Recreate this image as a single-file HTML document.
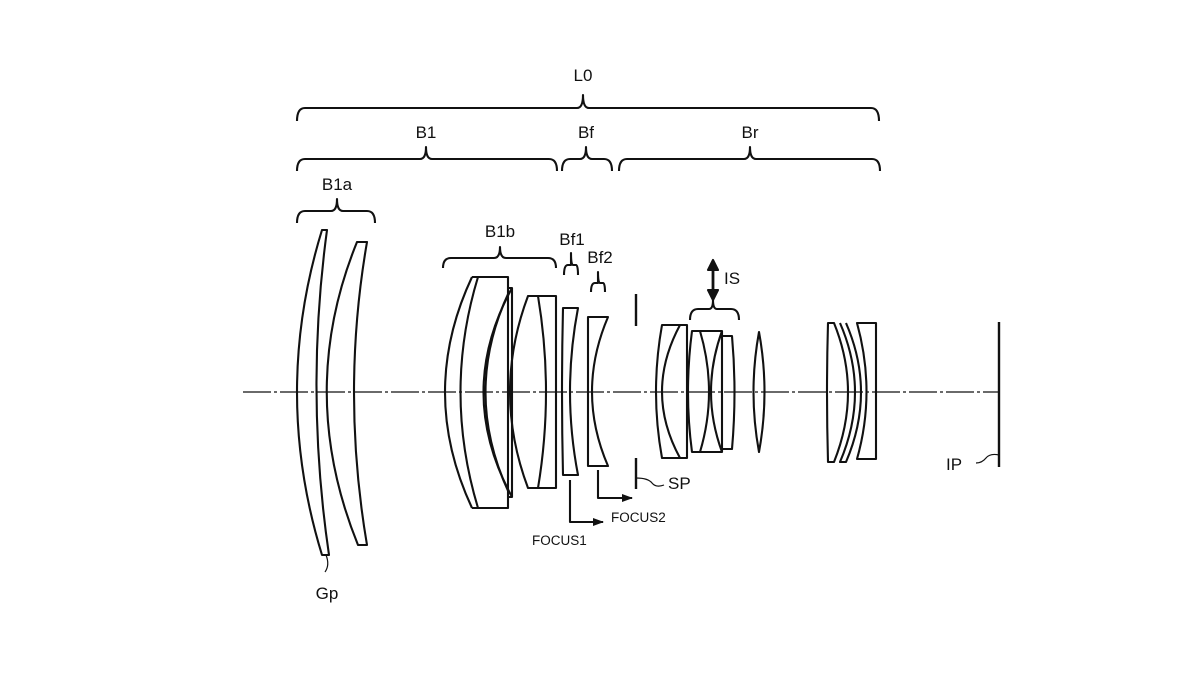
<!DOCTYPE html>
<html><head><meta charset="utf-8"><style>
html,body{margin:0;padding:0;background:#fff;}
svg{display:block;}
text{font-family:"Liberation Sans",sans-serif;fill:#111;}
</style></head><body>
<svg width="1200" height="675" viewBox="0 0 1200 675" xmlns="http://www.w3.org/2000/svg">
<defs><marker id="ar" markerWidth="11" markerHeight="8" refX="10" refY="4" orient="auto" markerUnits="userSpaceOnUse"><path d="M0,0 L11,4 L0,8 Z" fill="#111"/></marker></defs>
<g fill="none" stroke="#111" stroke-width="2.1" stroke-linejoin="round">
<line x1="243" y1="392" x2="1000" y2="392" stroke-width="1.2" stroke-dasharray="28,3,3,3"/>
<path d="M297,121 Q297,108 305,108 L577,108 Q583,108 583,95 Q583,108 589,108 L871,108 Q879,108 879,121"/>
<path d="M297,171 Q297,159 305,159 L420,159 Q426,159 426,147 Q426,159 432,159 L549,159 Q557,159 557,171"/>
<path d="M562,171 Q562,159 570,159 L580,159 Q586,159 586,147 Q586,159 592,159 L604,159 Q612,159 612,171"/>
<path d="M619,171 Q619,159 627,159 L744,159 Q750,159 750,147 Q750,159 756,159 L872,159 Q880,159 880,171"/>
<path d="M297,223 Q297,211 305,211 L331,211 Q337,211 337,199 Q337,211 343,211 L367,211 Q375,211 375,223"/>
<path d="M443,268 Q443,258 451,258 L494,258 Q500,258 500,247 Q500,258 506,258 L548,258 Q556,258 556,268"/>
<path d="M564,275 Q564,265 568,265 L571,265 Q571,265 571,253 Q571,265 573,265 L576,265 Q578,265 578,275"/>
<path d="M591,292 Q591,283 595,283 L598,283 Q598,283 598,272 Q598,283 600,283 L603,283 Q605,283 605,292"/>
<path d="M690,320 Q690,309 698,309 L709,309 Q713,309 713,300 Q713,309 717,309 L731,309 Q739,309 739,320"/>
<path d="M322,230 Q272,392 322,555 L329,555 Q305,392 327,230 Z"/>
<path d="M357,242 Q296,392 358,545 L367,545 Q341,392 367,242 Z"/>
<path d="M326,555 Q330,565 325,572" stroke-width="1.2"/>
<path d="M472,277 Q418,392 472,508"/>
<path d="M472,277 L508,277 L508,508 L472,508"/>
<path d="M478,277 Q443,392 478,508"/>
<path d="M508,288 L512,288 L512,497 L508,497"/>
<path d="M512,288 Q455,392 512,497"/>
<path d="M509,292 Q462,392 509,493"/>
<path d="M528,296 L556,296 L556,488 L528,488 Q492,392 528,296 Z"/>
<path d="M538,296 Q554,392 538,488"/>
<path d="M563,308 L578,308 Q562,392 578,475 L563,475 Q561,392 563,308 Z"/>
<path d="M588,317 L608,317 Q576,392 608,466 L588,466 Z"/>
<path d="M570,480 L570,522 L603,522" marker-end="url(#ar)"/>
<path d="M598,470 L598,498 L632,498" marker-end="url(#ar)"/>
<line x1="636" y1="294" x2="636" y2="326" stroke-width="2.4"/>
<line x1="636" y1="458" x2="636" y2="489" stroke-width="2.4"/>
<path d="M636,478 Q648,478 652,483 Q656,488 664,485" stroke-width="1.2"/>
<path d="M662,325 L687,325 L687,458 L662,458 Q650,392 662,325 Z"/>
<path d="M680,325 Q644,392 680,458"/>
<path d="M692,331 L722,331 L722,452 L692,452 Q684,392 692,331 Z"/>
<path d="M700,331 Q718,392 700,452"/>
<path d="M722,331 Q700,392 722,452"/>
<path d="M722,336 L732,336 Q737,392 732,449 L722,449"/>
<path d="M759,332 Q770,392 759,452 Q748,392 759,332 Z"/>
<path d="M828,323 Q826,392 828,462 L834,462 Q862,392 834,323 Z"/>
<path d="M840,323 Q870,392 840,462 L846,462 Q876,392 846,323"/>
<path d="M857,323 L876,323 L876,459 L857,459 Q876,392 857,323 Z"/>
<path d="M713,262 L713,298" stroke-width="2.8"/>
<path d="M708,270 L713,260 L718,270 Z M708,290 L713,300 L718,290 Z" fill="#111"/>
<line x1="999" y1="322" x2="999" y2="467" stroke-width="2.4"/>
<path d="M976,463 Q982,463 986,458 Q990,453 999,455" stroke-width="1.2"/>
</g>
<g font-size="17">
<text x="583" y="81" text-anchor="middle">L0</text>
<text x="426" y="138" text-anchor="middle">B1</text>
<text x="586" y="138" text-anchor="middle">Bf</text>
<text x="750" y="138" text-anchor="middle">Br</text>
<text x="337" y="190" text-anchor="middle">B1a</text>
<text x="500" y="237" text-anchor="middle">B1b</text>
<text x="572" y="245" text-anchor="middle">Bf1</text>
<text x="600" y="263" text-anchor="middle">Bf2</text>
<text x="724" y="284" font-family="Liberation Serif, serif">IS</text>
<text x="668" y="489">SP</text>
<text x="946" y="470" font-family="Liberation Serif, serif">IP</text>
<text x="327" y="599" text-anchor="middle">Gp</text>
</g>
<g font-size="13.5">
<text x="532" y="545">FOCUS1</text>
<text x="611" y="522">FOCUS2</text>
</g>
</svg>
</body></html>
